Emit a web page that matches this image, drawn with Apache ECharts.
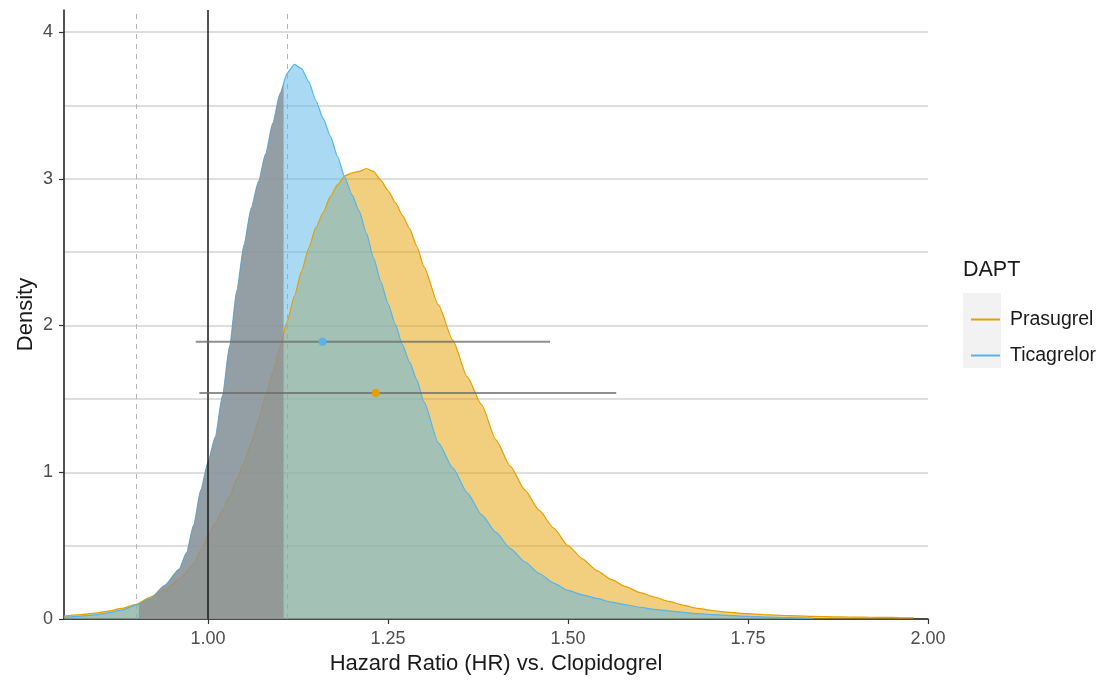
<!DOCTYPE html>
<html><head><meta charset="utf-8">
<script src="https://cdn.jsdelivr.net/npm/echarts@6/dist/echarts.min.js"></script>
<style>html,body{margin:0;padding:0;background:#fff}#c{width:1109px;height:680px}</style>
</head><body><div id="c"></div>
<script>
// ---- data ----
const hr = [0.80,0.82,0.84,0.86,0.88,0.90,0.92,0.94,0.96,0.97,0.98,0.99,
  1.00,1.01,1.02,1.03,1.04,1.05,1.06,1.07,1.08,1.09,1.10,1.11,1.12,1.13,1.14,1.15,1.16,1.17,1.18,1.19,
  1.20,1.21,1.22,1.23,1.24,1.25,1.26,1.27,1.28,1.29,1.30,
  1.32,1.34,1.36,1.38,1.40,1.42,1.44,1.46,1.48,1.50,1.52,1.54,1.56,1.58,1.60,1.62,1.64,1.66,1.68,1.70,
  1.72,1.74,1.76,1.78,1.80,1.82,1.84,1.86,1.88,1.90,1.92,1.94,1.96,1.98];
const ticagrelor = [0.012,0.018,0.027,0.04,0.06,0.095,0.14,0.23,0.34,0.45,0.64,0.88,
  1.07,1.24,1.52,1.86,2.24,2.55,2.80,2.98,3.17,3.38,3.58,3.72,3.78,3.75,3.66,3.53,3.41,3.29,3.15,3.01,
  2.89,2.78,2.63,2.46,2.30,2.15,2.01,1.87,1.75,1.63,1.48,
  1.20,1.03,0.86,0.71,0.59,0.48,0.39,0.31,0.245,0.195,0.165,0.14,0.115,0.097,0.08,0.066,0.055,0.045,0.036,0.03,
  0.025,0.02,0.016,0.013,0.01,0.008,0.006,null,null,null,null,null,null,null];
const prasugrel = [0.02,0.028,0.038,0.052,0.072,0.10,0.15,0.20,0.27,0.32,0.38,0.47,
  0.57,0.65,0.74,0.84,0.95,1.07,1.20,1.35,1.52,1.68,1.85,2.03,2.20,2.37,2.53,2.67,2.77,2.88,2.96,3.02,
  3.04,3.05,3.07,3.05,2.99,2.92,2.84,2.75,2.66,2.54,2.40,
  2.14,1.90,1.65,1.46,1.22,1.04,0.88,0.74,0.62,0.50,0.41,0.33,0.27,0.22,0.18,0.15,0.12,0.095,0.072,0.058,
  0.047,0.039,0.033,0.028,0.024,0.021,0.018,0.016,0.014,0.013,0.012,0.011,0.010,0.008];
const drugs = ['Prasugrel', 'Ticagrelor'];
const pointEst = [1.233, 1.159];
const ciLow = [0.988, 0.983];
const ciHigh = [1.567, 1.475];
const barLevel = [1.54, 1.89];
const xTicks = [1.00, 1.25, 1.50, 1.75, 2.00];
const yTicks = [0, 1, 2, 3, 4];
const refDashed = [0.9, 1 / 0.9];
const refSolid = 1.0;
const shadeRange = [0.904, 1.105];

// ---- styling ----
const colors = ['#E69F00', '#56B4E9'];
const FONT = '"Liberation Sans", Arial, sans-serif';
const SMOOTH = 0.2;

function pairs(vals) {
  const out = [];
  hr.forEach((x, i) => { if (vals[i] != null) out.push([x, vals[i]]); });
  return out;
}
function valueAt(vals, x) {
  for (let i = 0; i < hr.length - 1; i++) {
    if (hr[i] <= x && x <= hr[i + 1]) {
      const t = (x - hr[i]) / (hr[i + 1] - hr[i]);
      return vals[i] + t * (vals[i + 1] - vals[i]);
    }
  }
  return 0;
}
const shade = [[shadeRange[0], valueAt(ticagrelor, shadeRange[0])]];
hr.forEach((x, i) => { if (x > shadeRange[0] && x < shadeRange[1]) shade.push([x, ticagrelor[i]]); });
shade.push([shadeRange[1], valueAt(ticagrelor, shadeRange[1])]);

const densitySeries = [prasugrel, ticagrelor].map((vals, i) => ({
  name: drugs[i], type: 'line', data: pairs(vals), symbol: 'none', smooth: SMOOTH, smoothMonotone: 'x',
  z: 2,
  itemStyle: { color: colors[i] },
  lineStyle: { color: colors[i], width: 1.2 },
  areaStyle: { color: colors[i], opacity: 0.5 },
  silent: true
}));
densitySeries[0].markLine = {
  silent: true, symbol: 'none', z: 1, label: { show: false },
  lineStyle: { color: '#b5b5b5', type: [5, 5], width: 1 },
  data: refDashed.map(v => ({ xAxis: v }))
};

const shadeSeries = {
  name: 'shade', type: 'line', data: shade, symbol: 'none', z: 3, silent: true,
  smooth: SMOOTH, smoothMonotone: 'x',
  lineStyle: { width: 0 },
  areaStyle: { color: 'rgba(142,142,142,0.78)', opacity: 1 },
  markLine: {
    silent: true, symbol: 'none', z: 8, label: { show: false },
    lineStyle: { color: '#1a1a1a', type: 'solid', width: 1.5 },
    data: [{ xAxis: refSolid }]
  }
};

const barSeries = drugs.map((d, i) => ({
  name: d + ' CI', type: 'line', symbol: 'none', z: 9, silent: true,
  data: [[ciLow[i], barLevel[i]], [ciHigh[i], barLevel[i]]],
  lineStyle: { color: 'rgba(105,105,105,0.75)', width: 2 }
}));
const pointSeries = drugs.map((d, i) => ({
  name: d + ' est', type: 'scatter', symbolSize: 8, z: 10, silent: true,
  data: [[pointEst[i], barLevel[i]]],
  itemStyle: { color: colors[i], opacity: 1 }
}));

const chart = echarts.init(document.getElementById('c'), null, { renderer: 'canvas' });
chart.setOption({
  animation: false,
  textStyle: { fontFamily: FONT },
  grid: { left: 64, right: 181, top: 10, bottom: 61, containLabel: false },
  xAxis: {
    type: 'value', min: 0.8, max: 2.0,
    axisLine: { lineStyle: { color: '#1a1a1a', width: 1.5 } },
    axisTick: { show: true, customValues: xTicks, length: 5, lineStyle: { color: '#333', width: 1.2 } },
    axisLabel: { customValues: xTicks, formatter: v => v.toFixed(2), fontSize: 18, color: '#4d4d4d', margin: 11, fontFamily: FONT },
    splitLine: { show: false },
    name: 'Hazard Ratio (HR) vs. Clopidogrel', nameLocation: 'middle', nameGap: 33,
    nameTextStyle: { fontSize: 22, color: '#1a1a1a', fontFamily: FONT }
  },
  yAxis: [{
    type: 'value', min: 0, max: 4.15, interval: 1,
    axisLine: { show: true, lineStyle: { color: '#1a1a1a', width: 1.5 } },
    axisTick: { show: true, customValues: yTicks, length: 5, lineStyle: { color: '#333', width: 1.2 } },
    axisLabel: { customValues: yTicks, fontSize: 18, color: '#4d4d4d', margin: 11, fontFamily: FONT },
    splitLine: { show: false },
    name: 'Density', nameLocation: 'middle', nameGap: 27, nameMoveOverlap: false,
    nameTextStyle: { fontSize: 22, color: '#1a1a1a', fontFamily: FONT }
  }, {
    type: 'value', min: 0, max: 4.15, interval: 0.5, position: 'left',
    axisLine: { show: false }, axisTick: { show: false }, axisLabel: { show: false },
    splitLine: { show: true, showMaxLine: false, lineStyle: { color: '#d3d3d3', width: 1.6 } }
  }],
  legend: {
    data: drugs, orient: 'vertical', left: 966, top: 304,
    icon: 'rect', itemWidth: 29, itemHeight: 2, itemGap: 15,
    textStyle: { fontSize: 19.5, color: '#1a1a1a', fontFamily: FONT, lineHeight: 21, padding: [0, 0, 0, 5] },
    selectedMode: false
  },
  graphic: [
    { type: 'rect', z: -1, shape: { x: 963, y: 293, width: 38, height: 75 }, style: { fill: '#f2f2f2' } },
    { type: 'text', left: 963, top: 259, style: { text: 'DAPT', fontSize: 21.5, fill: '#1a1a1a', fontFamily: FONT } }
  ],
  series: [...densitySeries, shadeSeries, ...barSeries, ...pointSeries]
});
</script></body></html>
